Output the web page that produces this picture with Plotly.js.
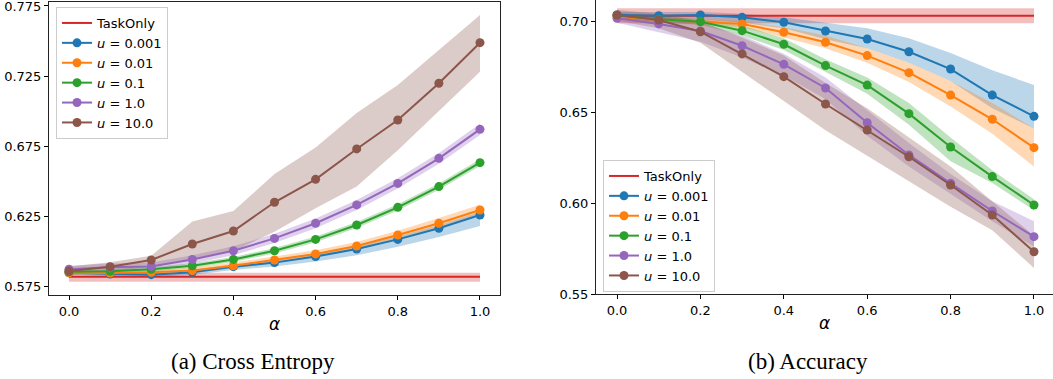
<!DOCTYPE html>
<html>
<head>
<meta charset="utf-8">
<script src="https://cdn.plot.ly/plotly-3.0.1.min.js"></script>
<style>html,body{margin:0;padding:0;background:#fff;}#chart{width:1053px;height:379px;}</style>
</head>
<body>
<div id="chart"></div>
<script>
// ---------- data ----------
const alpha = [0.0, 0.1, 0.2, 0.3, 0.4, 0.5, 0.6, 0.7, 0.8, 0.9, 1.0];
const seriesNames = ["TaskOnly", "<i>u</i> = 0.001", "<i>u</i> = 0.01", "<i>u</i> = 0.1", "<i>u</i> = 1.0", "<i>u</i> = 10.0"];
const seriesColors = ["#d62728", "#1f77b4", "#ff7f0e", "#2ca02c", "#9467bd", "#8c564b"];
const bandColors = ["rgba(214,39,40,0.3)", "rgba(31,119,180,0.3)", "rgba(255,127,14,0.3)", "rgba(44,160,44,0.3)", "rgba(148,103,189,0.3)", "rgba(140,86,75,0.3)"];

// (a) Cross Entropy
const ceTaskOnly    = [0.5816,0.5816,0.5816,0.5816,0.5816,0.5816,0.5816,0.5816,0.5816,0.5816,0.5816];
const ceTaskOnlyLo  = [0.5781,0.5781,0.5781,0.5781,0.5781,0.5781,0.5781,0.5781,0.5781,0.5781,0.5781];
const ceTaskOnlyHi  = [0.5845,0.5845,0.5845,0.5845,0.5845,0.5845,0.5845,0.5845,0.5845,0.5845,0.5845];
const ceU0001   = [0.5845,0.5836,0.5831,0.5848,0.5888,0.5917,0.5960,0.6014,0.6083,0.6162,0.6257];
const ceU0001Lo = [0.5830,0.5820,0.5815,0.5830,0.5865,0.5890,0.5925,0.5970,0.6030,0.6100,0.6179];
const ceU0001Hi = [0.5860,0.5850,0.5845,0.5865,0.5905,0.5935,0.5980,0.6035,0.6105,0.6185,0.6280];
const ceU001    = [0.5845,0.5843,0.5848,0.5860,0.5895,0.5936,0.5979,0.6036,0.6114,0.6198,0.6293];
const ceU001Lo  = [0.5830,0.5830,0.5833,0.5845,0.5875,0.5915,0.5955,0.6010,0.6085,0.6165,0.6260];
const ceU001Hi  = [0.5860,0.5858,0.5865,0.5880,0.5918,0.5960,0.6005,0.6065,0.6145,0.6235,0.6330];
const ceU01     = [0.5852,0.5855,0.5869,0.5895,0.5940,0.6002,0.6083,0.6186,0.6312,0.6460,0.6631];
const ceU01Lo   = [0.5837,0.5840,0.5853,0.5878,0.5922,0.5982,0.6062,0.6164,0.6290,0.6437,0.6607];
const ceU01Hi   = [0.5867,0.5870,0.5885,0.5912,0.5958,0.6022,0.6104,0.6208,0.6334,0.6483,0.6655];
const ceU1      = [0.5870,0.5884,0.5890,0.5940,0.6002,0.6090,0.6198,0.6329,0.6483,0.6662,0.6869];
const ceU1Lo    = [0.5845,0.5858,0.5862,0.5910,0.5970,0.6057,0.6163,0.6293,0.6446,0.6624,0.6829];
const ceU1Hi    = [0.5895,0.5910,0.5918,0.5970,0.6034,0.6123,0.6233,0.6365,0.6520,0.6700,0.6909];
const ceU10     = [0.5857,0.5888,0.5936,0.6050,0.6143,0.6348,0.6512,0.6729,0.6936,0.7198,0.7488];
const ceU10Lo   = [0.5830,0.5850,0.5890,0.5936,0.6000,0.6138,0.6305,0.6460,0.6720,0.7000,0.7280];
const ceU10Hi   = [0.5890,0.5920,0.5966,0.6210,0.6286,0.6550,0.6740,0.6986,0.7186,0.7436,0.7686];

// (b) Accuracy
const accTaskOnly   = [0.7029,0.7029,0.7029,0.7029,0.7029,0.7029,0.7029,0.7029,0.7029,0.7029,0.7029];
const accTaskOnlyLo = [0.6987,0.6987,0.6987,0.6987,0.6987,0.6987,0.6987,0.6987,0.6987,0.6987,0.6987];
const accTaskOnlyHi = [0.7070,0.7070,0.7070,0.7070,0.7070,0.7070,0.7070,0.7070,0.7070,0.7070,0.7070];
const accU0001   = [0.7033,0.7029,0.7033,0.7020,0.6993,0.6945,0.6901,0.6831,0.6736,0.6593,0.6476];
const accU0001Lo = [0.7015,0.7010,0.7010,0.6990,0.6960,0.6900,0.6850,0.6770,0.6670,0.6520,0.6410];
const accU0001Hi = [0.7050,0.7050,0.7050,0.7040,0.7020,0.6990,0.6960,0.6905,0.6824,0.6730,0.6648];
const accU001    = [0.7025,0.7005,0.6996,0.6984,0.6938,0.6883,0.6810,0.6716,0.6593,0.6460,0.6304];
const accU001Lo  = [0.7010,0.6990,0.6980,0.6965,0.6910,0.6850,0.6770,0.6665,0.6530,0.6380,0.6200];
const accU001Hi  = [0.7040,0.7020,0.7010,0.7000,0.6965,0.6920,0.6850,0.6770,0.6670,0.6550,0.6410];
const accU01     = [0.7030,0.7010,0.6996,0.6947,0.6872,0.6755,0.6648,0.6491,0.6308,0.6145,0.5989];
const accU01Lo   = [0.7015,0.6995,0.6980,0.6920,0.6840,0.6720,0.6600,0.6430,0.6230,0.6110,0.5960];
const accU01Hi   = [0.7045,0.7025,0.7010,0.6975,0.6905,0.6790,0.6690,0.6550,0.6360,0.6180,0.6020];
const accU1      = [0.7015,0.6984,0.6945,0.6864,0.6762,0.6632,0.6441,0.6264,0.6108,0.5956,0.5815];
const accU1Lo    = [0.6990,0.6940,0.6886,0.6800,0.6700,0.6570,0.6370,0.6200,0.6050,0.5900,0.5760];
const accU1Hi    = [0.7040,0.7020,0.6990,0.6920,0.6820,0.6690,0.6510,0.6330,0.6160,0.6010,0.5900];
const accU10     = [0.7033,0.7005,0.6941,0.6819,0.6694,0.6544,0.6401,0.6254,0.6099,0.5934,0.5732];
const accU10Lo   = [0.7000,0.6960,0.6880,0.6720,0.6560,0.6400,0.6260,0.6120,0.5980,0.5850,0.5643];
const accU10Hi   = [0.7060,0.7040,0.7000,0.6910,0.6810,0.6660,0.6520,0.6360,0.6200,0.6010,0.5820];

const ceTickVals = [0.575, 0.625, 0.675, 0.725, 0.775];
const accTickVals = [0.55, 0.60, 0.65, 0.70];
const xTickVals = [0.0, 0.2, 0.4, 0.6, 0.8, 1.0];
const captions = ["(a) Cross Entropy", "(b) Accuracy"];
const xLabel = "<i>α</i>";

// ---------- build traces ----------
const ceSets = [[ceTaskOnly, ceTaskOnlyLo, ceTaskOnlyHi], [ceU0001, ceU0001Lo, ceU0001Hi], [ceU001, ceU001Lo, ceU001Hi],
                [ceU01, ceU01Lo, ceU01Hi], [ceU1, ceU1Lo, ceU1Hi], [ceU10, ceU10Lo, ceU10Hi]];
const accSets = [[accTaskOnly, accTaskOnlyLo, accTaskOnlyHi], [accU0001, accU0001Lo, accU0001Hi], [accU001, accU001Lo, accU001Hi],
                 [accU01, accU01Lo, accU01Hi], [accU1, accU1Lo, accU1Hi], [accU10, accU10Lo, accU10Hi]];

const traces = [];
function addPanel(sets, xa, ya, legendId) {
  sets.forEach((s, i) => {
    traces.push({x: alpha, y: s[1], xaxis: xa, yaxis: ya, type: 'scatter', mode: 'lines',
      line: {width: 0, color: seriesColors[i]}, showlegend: false, hoverinfo: 'skip'});
    traces.push({x: alpha, y: s[2], xaxis: xa, yaxis: ya, type: 'scatter', mode: 'lines', fill: 'tonexty',
      fillcolor: bandColors[i], line: {width: 0, color: seriesColors[i]}, showlegend: false, hoverinfo: 'skip'});
  });
  sets.forEach((s, i) => {
    traces.push({x: alpha, y: s[0], xaxis: xa, yaxis: ya, type: 'scatter',
      mode: i === 0 ? 'lines' : 'lines+markers', name: seriesNames[i], legend: legendId,
      line: {width: 2, color: seriesColors[i]}, marker: {size: 9, color: seriesColors[i]}, hoverinfo: 'skip'});
  });
}
addPanel(ceSets, 'x', 'y', 'legend');
addPanel(accSets, 'x2', 'y2', 'legend2');

const W = 1053, H = 379;
const tickFont = {family: 'DejaVu Sans', size: 13, color: '#000'};
function xAxis(domain, range, mirror) {
  return {domain: domain, range: range, tickvals: xTickVals, tickformat: '.1f', ticks: 'outside', ticklen: 4, tickwidth: 1,
    tickcolor: '#000', showline: true, linecolor: '#222', linewidth: 1, mirror: mirror, showgrid: false, zeroline: false,
    tickfont: tickFont, fixedrange: true, ticklabeloverflow: 'allow',
    title: {text: xLabel, font: {family: 'DejaVu Sans', size: 17, color: '#000'}, standoff: 0}};
}
function yAxis(domain, range, vals, fmt, mirror, anchor) {
  return {domain: domain, range: range, tickvals: vals, tickformat: fmt, ticks: 'outside', ticklen: 4, tickwidth: 1,
    tickcolor: '#000', showline: true, linecolor: '#222', linewidth: 1, mirror: mirror, showgrid: false, zeroline: false,
    tickfont: tickFont, fixedrange: true, anchor: anchor, ticklabeloverflow: 'allow'};
}
const legendStyle = {bgcolor: 'rgba(255,255,255,0.8)', bordercolor: '#cccccc', borderwidth: 1, traceorder: 'normal',
  font: {family: 'DejaVu Sans', size: 13, color: '#000'}, xanchor: 'left', yanchor: 'top', tracegroupgap: 0};

const layout = {
  width: W, height: H, margin: {l: 0, r: 0, t: 0, b: 0}, paper_bgcolor: '#fff', plot_bgcolor: '#fff',
  showlegend: true,
  xaxis: Object.assign(xAxis([49 / W, 500 / W], [-0.0487, 1.0487], true), {anchor: 'y'}),
  yaxis: yAxis([(H - 295) / H, (H - 1.5) / H], [0.56857, 0.77821], ceTickVals, '.3f', true, 'x'),
  xaxis2: Object.assign(xAxis([596 / W, 1], [-0.0504, 1.0456], false), {anchor: 'y2'}),
  yaxis2: yAxis([(H - 294) / H, 1], [0.55, 0.71154], accTickVals, '.2f', false, 'x2'),
  legend: Object.assign({x: 56 / W, y: 1 - 7 / H}, legendStyle),
  legend2: Object.assign({x: 603 / W, y: 1 - 160 / H}, legendStyle),
  annotations: [
    {text: captions[0], xref: 'paper', yref: 'paper', x: 253 / W, y: 1 - 361 / H, xanchor: 'center', yanchor: 'middle',
     showarrow: false, font: {family: 'Liberation Serif', size: 23, color: '#000'}},
    {text: captions[1], xref: 'paper', yref: 'paper', x: 808 / W, y: 1 - 361 / H, xanchor: 'center', yanchor: 'middle',
     showarrow: false, font: {family: 'Liberation Serif', size: 23, color: '#000'}}
  ]
};
Plotly.newPlot('chart', traces, layout, {displayModeBar: false, staticPlot: true});
</script>
</body>
</html>
